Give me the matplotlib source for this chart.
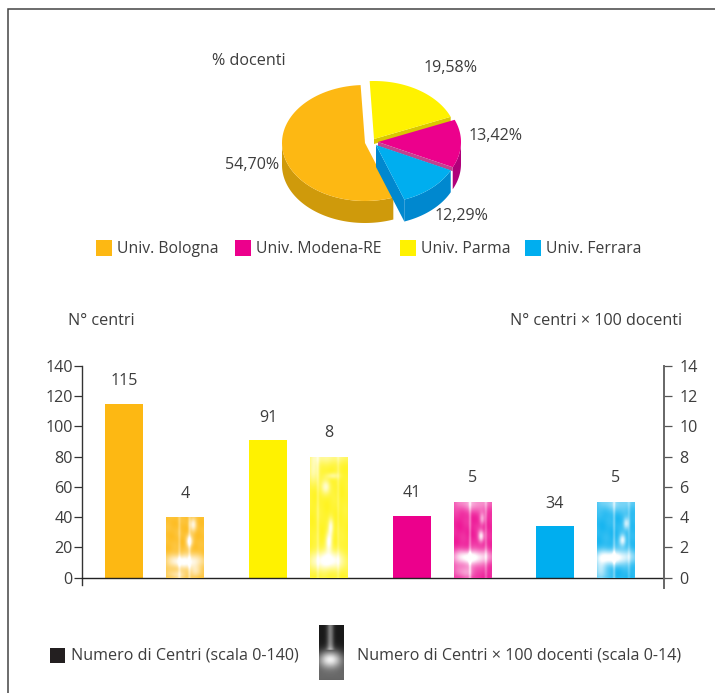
import numpy as np
import matplotlib
matplotlib.use("Agg")
import matplotlib.pyplot as plt
from matplotlib.patches import Polygon, Rectangle

plt.rcParams['font.family'] = ['Open Sans', 'DejaVu Sans']

# ---------- data ----------
universities = ['Univ. Bologna', 'Univ. Modena-RE', 'Univ. Parma', 'Univ. Ferrara']
pie_order = ['Univ. Parma', 'Univ. Modena-RE', 'Univ. Ferrara', 'Univ. Bologna']
pie_shares = [19.58, 13.42, 12.29, 54.70]
pie_labels = ['19,58%', '13,42%', '12,29%', '54,70%']
bar_order = ['Univ. Bologna', 'Univ. Parma', 'Univ. Modena-RE', 'Univ. Ferrara']
n_centri = [115, 91, 41, 34]
n_centri_100 = [4, 8, 5, 5]
left_ticks = [0, 20, 40, 60, 80, 100, 120, 140]
right_ticks = [0, 2, 4, 6, 8, 10, 12, 14]

# ---------- style ----------
W, H = 715, 693
TXT = '#3d3d3d'
FS = 11.6
top_col = {'Univ. Bologna': '#FDB813', 'Univ. Modena-RE': '#EC008C',
           'Univ. Parma': '#FFF200', 'Univ. Ferrara': '#00AEEF'}
side_col = {'Univ. Bologna': '#CF9A0B', 'Univ. Modena-RE': '#B0007A',
            'Univ. Parma': '#D9C800', 'Univ. Ferrara': '#0088CF'}
apex = {'Univ. Bologna': (365, 143), 'Univ. Parma': (374, 139),
        'Univ. Modena-RE': (378, 142), 'Univ. Ferrara': (376, 145)}
A, B, DEPTH, START = 83, 58, 22, 93

fig = plt.figure(figsize=(W / 100, H / 100), dpi=100, facecolor='white')

# overlay in pixel coordinates
ov = fig.add_axes([0, 0, 1, 1], zorder=1)
ov.set_xlim(0, W); ov.set_ylim(H, 0); ov.axis('off')
ov.plot([8, 8, W], [H, 9, 9], color='#444444', lw=1.1, solid_joinstyle='miter')


def arc(name, t0, t1, dy=0, n=80):
    cx, cy = apex[name]
    t = np.radians(np.linspace(t0, t1, n))
    return np.column_stack([cx + A * np.cos(t), cy - B * np.sin(t) + dy])


# slice angles from the shares, clockwise from START
ang = {}
cur = START
for name, s in zip(pie_order, pie_shares):
    ang[name] = (cur, cur - s * 3.6)
    cur -= s * 3.6

names_draw = ['Univ. Bologna', 'Univ. Parma', 'Univ. Modena-RE', 'Univ. Ferrara']
for name in names_draw:
    t0, t1 = ang[name]
    c = apex[name]
    z = 2
    top = arc(name, t0, t1)
    # outer wall: only the part facing the viewer (sin < 0)
    ts = np.linspace(t0, t1, 400)
    ts = ts[np.sin(np.radians(ts)) <= 0]
    if name == 'Univ. Bologna':
        ts = ts[ts >= -180]
    if len(ts):
        o = arc(name, ts[0], ts[-1], 0, 100)
        wall = np.vstack([o, arc(name, ts[-1], ts[0], DEPTH, 100)])
        ov.add_patch(Polygon(wall, closed=True, fc=side_col[name], ec='none', zorder=z))
    # radial walls
    if name == 'Univ. Parma':
        e = top[-1]
        ov.add_patch(Polygon([c, e, (e[0], e[1] + 5), (c[0], c[1] + 5)], fc=side_col[name], ec='none', zorder=z))
    if name == 'Univ. Modena-RE':
        e = top[-1]
        ov.add_patch(Polygon([c, e, (e[0], e[1] + 4), (c[0], c[1] + 4)], fc='#C2418F', ec='none', zorder=z + .5))
    if name == 'Univ. Ferrara':
        e2 = top[-1]
        ov.add_patch(Polygon([c, e2, (e2[0], e2[1] + DEPTH), (c[0], c[1] + DEPTH)], fc=side_col[name], ec='none', zorder=z + .6))
    ov.add_patch(Polygon(np.vstack([[c], top]), closed=True, fc=top_col[name], ec='none',
                         zorder=z + (1 if name == 'Univ. Ferrara' else .2)))

pie_pos = {'54,70%': (252, 165), '19,58%': (451, 68), '13,42%': (496, 136), '12,29%': (461, 216)}
for lab in pie_labels:
    ov.text(*pie_pos[lab], lab, ha='center', va='center', fontsize=FS, color=TXT, zorder=6)
ov.text(212, 61, '% docenti', ha='left', va='center', fontsize=FS, color=TXT)

# pie legend
leg_x = {'Univ. Bologna': 96, 'Univ. Modena-RE': 235, 'Univ. Parma': 400, 'Univ. Ferrara': 525}
for u in universities:
    x = leg_x[u]
    ov.add_patch(Rectangle((x, 240), 15.5, 15.5, fc=top_col[u], ec='none'))
    ov.text(x + 21, 249, u, ha='left', va='center', fontsize=FS - 0.3, color=TXT)

ov.text(68, 321, 'N° centri', ha='left', va='center', fontsize=FS, color=TXT)
ov.text(682, 321, 'N° centri × 100 docenti', ha='right', va='center', fontsize=FS, color=TXT)

# ---------- bars ----------
X0, X1, Y0, Y1 = 81.7, 664, 577.7, 365.7
ax = fig.add_axes([X0 / W, 1 - Y0 / H, (X1 - X0) / W, (Y0 - Y1) / H], zorder=2)
ax.patch.set_alpha(0)
ax2 = ax.twinx()
ax2.patch.set_alpha(0)
group_left = [105, 249, 393, 536]
BAR_W, STEP = 38, 61


def texture(blobs, lines, wash, ny=120, nx=40):
    yy, xx = np.mgrid[0:1:ny * 1j, 0:1:nx * 1j]
    a = wash + 0.05 * (np.sin(xx * 13 + yy * 9) * np.sin(yy * 17 - xx * 5) + 1)
    for bx, by, sx, sy, amp in blobs:
        a += amp * np.exp(-((xx - bx) / sx) ** 2 - ((yy - by) / sy) ** 2)
    for lx, amp in lines:
        a += amp * np.exp(-((xx - lx) / 0.035) ** 2)
    return np.clip(a, 0, 1)


tex = {
    'Univ. Bologna': texture([(.5, .27, .5, .12, .95), (.62, .6, .09, .1, .8), (.72, .88, .09, .12, .7),
                              (.3, .05, .3, .08, .45), (.8, .1, .16, .1, .4)], [(.35, .25), (.62, .3)], .08),
    'Univ. Parma': texture([(.45, .14, .45, .08, .95), (.5, .3, .09, .08, .8), (.55, .42, .07, .07, .6),
                            (.42, .75, .12, .06, .6), (.6, .84, .18, .025, .4), (.1, .9, .15, .12, .5),
                            (.5, 1, .6, .06, .4)],
                           [(.2, .22), (.75, .18)], .14),
    'Univ. Modena-RE': texture([(.45, .27, .55, .1, .95), (.72, .55, .08, .08, .8), (.75, .78, .07, .08, .5),
                                (.5, 1, .6, .12, .5), (.3, .08, .3, .09, .45)], [(.42, .3), (.85, .25)], .1),
    'Univ. Ferrara': texture([(.45, .27, .55, .1, .95), (.68, .5, .09, .08, .8), (.78, .72, .08, .08, .7),
                              (.5, 1, .6, .12, .4), (.1, .1, .18, .18, .5)], [(.45, .3), (.85, .2)], .1),
}

for i, u in enumerate(bar_order):
    x = group_left[i]
    ax.bar(x, n_centri[i], width=BAR_W, align='edge', color=top_col[u], zorder=2)
    ax.annotate(str(n_centri[i]), (x + BAR_W / 2, n_centri[i]), xytext=(0, 16), textcoords='offset points',
                ha='center', va='center', fontsize=FS, color=TXT)
    x2 = x + STEP
    ax2.bar(x2, n_centri_100[i], width=BAR_W, align='edge', color=top_col[u], zorder=2)
    rgba = np.ones(tex[u].shape + (4,))
    rgba[..., 3] = tex[u]
    ax2.imshow(rgba, extent=(x2, x2 + BAR_W, 0, n_centri_100[i]), origin='lower', aspect='auto',
               interpolation='bilinear', zorder=3)
    ax2.annotate(str(n_centri_100[i]), (x2 + BAR_W / 2, n_centri_100[i]), xytext=(0, 17),
                 textcoords='offset points', ha='center', va='center', fontsize=FS, color=TXT)

for a_, ticks, lim in ((ax, left_ticks, 140), (ax2, right_ticks, 14)):
    a_.set_xlim(X0, X1)
    a_.set_ylim(0, lim)
    a_.set_yticks(ticks)
    a_.set_xticks([])
    a_.spines['top'].set_visible(False)

ax.tick_params(axis='y', length=6, width=0.9, color='#333333', labelsize=FS, labelcolor=TXT, pad=0.5)
ax2.tick_params(axis='y', length=6, width=0.9, color='#555555', labelsize=FS, labelcolor=TXT, pad=5)
ax.spines['right'].set_visible(False)
ax2.spines['left'].set_visible(False)
ax2.spines['bottom'].set_visible(False)
ax.spines['left'].set_bounds(-5, 140)
ax.spines['left'].set_color('#333333')
ax.spines['left'].set_linewidth(1.0)
ax.spines['bottom'].set_color('#222222')
ax.spines['bottom'].set_linewidth(1.0)
ax2.spines['right'].set_bounds(-0.7, 14)
ax2.spines['right'].set_color('#666666')
ax2.spines['right'].set_linewidth(1.4)

# ---------- bottom legend ----------
ov.add_patch(Rectangle((50, 648), 15, 15, fc='#231F20', ec='none'))
ov.text(71, 656, 'Numero di Centri (scala 0-140)', ha='left', va='center', fontsize=FS, color=TXT)
yy, xx = np.mgrid[0:1:60j, 0:1:30j]
g = 0.1 + 0.4 * np.exp(-((xx - .45) / .14) ** 2) * (yy < .45)
g += 0.75 * np.exp(-((xx - .45) / .5) ** 2 - ((yy - .62) / .16) ** 2)
g += 0.3 * np.exp(-((yy - .95) / .3) ** 2)
ov.imshow(np.clip(g, 0, 1), cmap='gray', vmin=0, vmax=1, extent=(319, 344, 680, 625), aspect='auto',
          interpolation='bilinear', zorder=3)
ov.set_xlim(0, W); ov.set_ylim(H, 0)
ov.text(357, 656, 'Numero di Centri × 100 docenti (scala 0-14)', ha='left', va='center', fontsize=FS, color=TXT)

fig.savefig('out.png', dpi=100)
